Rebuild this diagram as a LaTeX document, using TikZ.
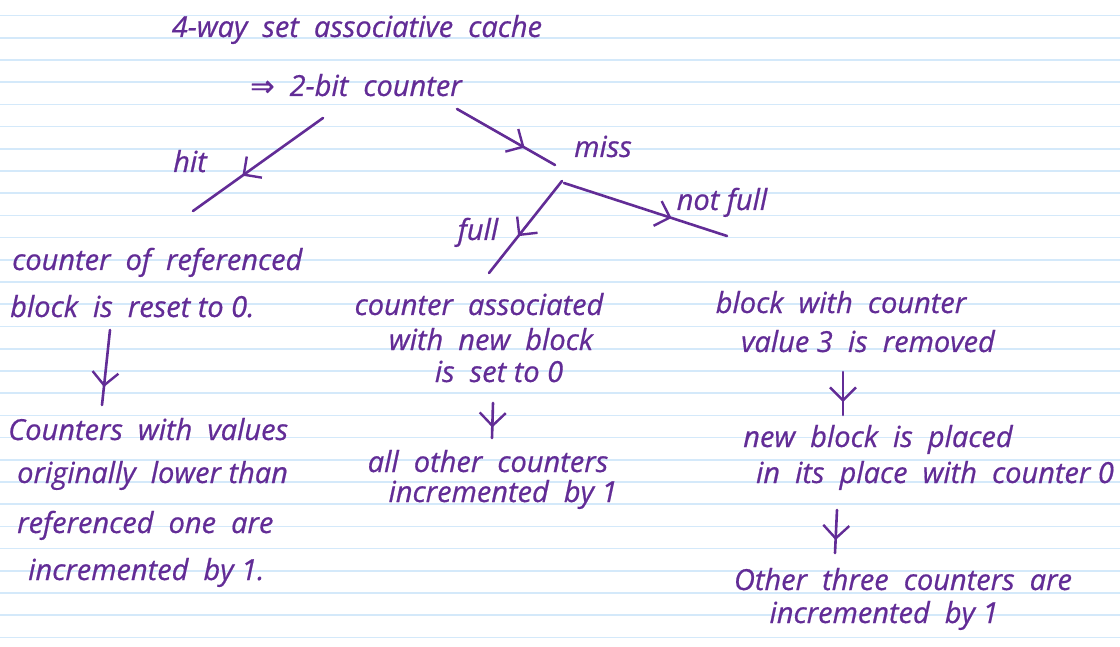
\documentclass[tikz,border=0pt]{standalone}
\usepackage{fontspec}
\setmainfont{Open Sans}[ItalicFeatures={FakeBold=0.6}]
\newfontfamily\arrowfont{DejaVu Sans}[FakeBold=0.6]
\usetikzlibrary{arrows.meta,decorations.markings}
\definecolor{ink}{RGB}{98,44,150}
\definecolor{ruling}{RGB}{212,233,250}
\tikzset{
  pen/.style={draw=ink, line width=2.6pt, line cap=round, line join=round},
  midarrow/.style={decoration={markings,
      mark=at position #1 with {\arrow[ink]{Straight Barb[length=13pt,width=26pt,line width=2.4pt]}}},
    postaction=decorate},
  note/.style={text=ink, inner sep=0pt, font=\fontsize{29}{32}\selectfont\itshape},
  notel/.style={note, anchor=base west},
  notec/.style={note, anchor=base},
}
\begin{document}
\begin{tikzpicture}[x=1pt,y=-1pt]
  \useasboundingbox (0,0) rectangle (1120,647);
  \fill[white] (0,0) rectangle (1120,647);
  % ruled paper
  \foreach \k in {0,...,28}
    \draw[ruling, line width=1.6pt] (0,15.7+22.2*\k) -- (1120,15.7+22.2*\k);

  % heading
  \node[notec] (title) at (357,37) {4-way\ \ set\ \ associative\ \ cache};
  \node[notec] (counter) at (356,96) {{\arrowfont ⇒}\ \ 2-bit\ \ counter};

  % branch labels
  \node[notec] (hit) at (190,172) {hit};
  \node[notec] (miss) at (603,157) {miss};
  \node[notec] (full) at (478,240) {full};
  \node[notec] (notfull) at (722,210) {not full};

  % hit branch
  \node[notel] (h1) at (12,270) {counter\ \ of\ \ referenced};
  \node[notel] (h2) at (10,317) {block\ \ is\ \ reset to 0.};
  \node[notel] (h3) at (8,440) {Counters\ \ with\ \ values};
  \node[notel] (h4) at (17,483) {originally\ \ lower than};
  \node[notel] (h5) at (17,533) {referenced\ \ one\ \ are};
  \node[notel] (h6) at (28,580) {incremented\ \ by 1.};

  % miss, full branch
  \node[notec] (f1) at (479,315) {counter\ \ associated};
  \node[notec] (f2) at (491,350) {with\ \ new\ \ block};
  \node[notec] (f3) at (499,382) {is\ \ set to 0};
  \node[notec] (f4) at (488,472) {all\ \ other\ \ counters};
  \node[notec] (f5) at (503,502) {incremented\ \ by 1};

  % miss, not full branch
  \node[notec] (n1) at (841,313) {block\ \ with\ \ counter};
  \node[notec] (n2) at (868,352) {value 3\ \ is\ \ removed};
  \node[notec] (n3) at (878,447) {new\ \ block\ \ is\ \ placed};
  \node[notec] (n4) at (935,483) {in\ \ its\ \ place\ \ with\ \ counter 0};
  \node[notec] (n5) at (903,590) {Other\ \ three\ \ counters\ \ are};
  \node[notec] (n6) at (884,623) {incremented\ \ by 1};

  % connector end points
  \coordinate (hitA) at (323,118);  \coordinate (hitB) at (193,211);
  \coordinate (missA) at (457,109); \coordinate (missB) at (555,165);
  \coordinate (fullA) at (562,181); \coordinate (fullB) at (489,273);
  \coordinate (nfA) at (564,183);   \coordinate (nfB) at (727,236);
  \coordinate (hA) at (110,330);    \coordinate (hB) at (102,405);
  \coordinate (fA) at (493,403);    \coordinate (fB) at (492,438);
  \coordinate (nA) at (843,372);    \coordinate (nB) at (843,415);
  \coordinate (mA) at (837,510);    \coordinate (mB) at (835,553);

  % connectors
  \draw[pen, midarrow=0.62] (hitA) -- (hitB);
  \draw[pen, midarrow=0.69] (missA) -- (missB);
  \draw[pen, midarrow=0.60] (fullA) -- (fullB);
  \draw[pen, midarrow=0.66] (nfA) -- (nfB);
  \draw[pen, midarrow=0.76] (hA) -- (hB);
  \draw[pen, midarrow=0.70] (fA) -- (fB);
  \draw[pen, midarrow=0.70] (nA) -- (nB);
  \draw[pen, midarrow=0.70] (mA) -- (mB);
\end{tikzpicture}
\end{document}
